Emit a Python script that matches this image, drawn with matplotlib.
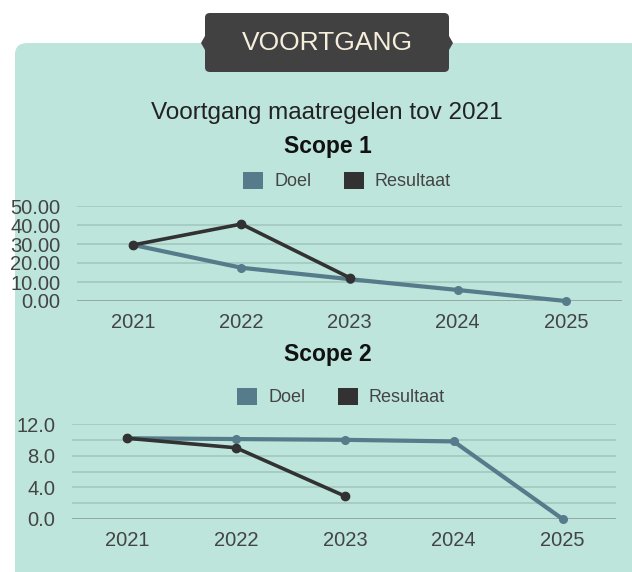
import matplotlib.pyplot as plt
from matplotlib.patches import FancyBboxPatch, Patch, Polygon

# data
jaren = ["2021", "2022", "2023", "2024", "2025"]
scope1_doel = [29.5, 17.5, 11.5, 5.8, 0.0]
scope1_resultaat = [29.5, 40.5, 12.3]
scope2_doel = [10.2, 10.1, 10.0, 9.8, 0.0]
scope2_resultaat = [10.2, 9.0, 2.9]
scope1_ticks = [0, 10, 20, 30, 40, 50]
scope2_ticks = [0, 4, 8, 12]
scope2_grid = [0, 2, 4, 6, 8, 10, 12]

W, H = 632, 572
kleur_doel = "#567b8a"
kleur_res = "#323232"
kleur_bg = "#bde5dc"
kleur_grid = "#a2c7be"
kleur_tekst = "#444444"

plt.rcParams["font.family"] = ["Liberation Sans", "DejaVu Sans"]

fig = plt.figure(figsize=(W / 100, H / 100), dpi=100)
fig.patch.set_facecolor("white")


def fx(px):
    return px / W


def fy(py):
    return 1 - py / H


# achtergrondpaneel
paneel = FancyBboxPatch((fx(15), fy(620)), fx(660), fy(43) - fy(620),
                        boxstyle="round,pad=0,rounding_size=0.02",
                        transform=fig.transFigure, facecolor=kleur_bg,
                        edgecolor="none", zorder=-2)
fig.patches.append(paneel)

# donkere banner met kleine punten aan de zijkant
banner = FancyBboxPatch((fx(205), fy(72)), fx(449) - fx(205), fy(13) - fy(72),
                        boxstyle="round,pad=0,rounding_size=0.008",
                        transform=fig.transFigure, facecolor="#414141",
                        edgecolor="none", zorder=-1)
fig.patches.append(banner)
for x0, dx in [(205, -4), (449, 4)]:
    punt = Polygon([(fx(x0), fy(36)), (fx(x0 + dx), fy(43)), (fx(x0), fy(50))],
                   closed=True, transform=fig.transFigure,
                   facecolor="#414141", edgecolor="none", zorder=-1)
    fig.patches.append(punt)
fig.text(fx(327), fy(43), "VOORTGANG", ha="center", va="center",
         fontsize=19, color="#f6eedc", zorder=2)

fig.text(fx(327), fy(113), "Voortgang maatregelen tov 2021", ha="center",
         va="center", fontsize=17.5, color="#222222")
fig.text(fx(328), fy(147), "Scope 1", ha="center", va="center",
         fontsize=16.5, fontweight="bold", color="#111111")
fig.text(fx(328), fy(355), "Scope 2", ha="center", va="center",
         fontsize=16.5, fontweight="bold", color="#111111")

handles = [Patch(facecolor=kleur_doel), Patch(facecolor=kleur_res)]
labels = ["Doel", "Resultaat"]
for cx, cy in [(347, 181), (341, 397)]:
    fig.legend(handles, labels, loc="center", bbox_to_anchor=(fx(cx), fy(cy)),
               ncol=2, frameon=False, fontsize=13, handlelength=1.1,
               handleheight=1.1, columnspacing=1.8, handletextpad=0.6,
               labelcolor=kleur_tekst)


def opmaak(ax, grid_waarden, ticks, fmt, xlim):
    ax.set_facecolor("none")
    ax.set_zorder(1)
    for s in ax.spines.values():
        s.set_visible(False)
    for g in grid_waarden:
        ax.axhline(g, color="#8e9e9a" if g == 0 else kleur_grid,
                   lw=1.2, zorder=1)
    ax.set_yticks(ticks)
    ax.set_yticklabels([fmt.format(t) for t in ticks])
    ax.set_xticks(range(len(jaren)))
    ax.set_xticklabels(jaren)
    ax.set_xlim(*xlim)
    ax.tick_params(length=0, labelsize=14.5, colors=kleur_tekst)
    ax.tick_params(axis="y", pad=12)
    ax.tick_params(axis="x", pad=9)


def lijnen(ax, doel, resultaat):
    ax.plot(range(len(doel)), doel, color=kleur_doel, lw=3,
            marker="o", ms=5.5, zorder=3, clip_on=False)
    ax.plot(range(len(resultaat)), resultaat, color=kleur_res,
            lw=2.6, marker="o", ms=6, zorder=4, clip_on=False)


# scope 1
ax1 = fig.add_axes([fx(77), fy(301), fx(622) - fx(77), fy(206) - fy(301)])
lijnen(ax1, scope1_doel, scope1_resultaat)
ax1.set_ylim(0, 50)
opmaak(ax1, scope1_ticks, scope1_ticks, "{:.2f}", (-0.52, 4.52))

# scope 2
ax2 = fig.add_axes([fx(72), fy(519), fx(616) - fx(72), fy(424) - fy(519)])
lijnen(ax2, scope2_doel, scope2_resultaat)
ax2.set_ylim(0, 12)
opmaak(ax2, scope2_grid, scope2_ticks, "{:.1f}", (-0.505, 4.49))

plt.savefig("out.png", dpi=100, facecolor=fig.get_facecolor())
